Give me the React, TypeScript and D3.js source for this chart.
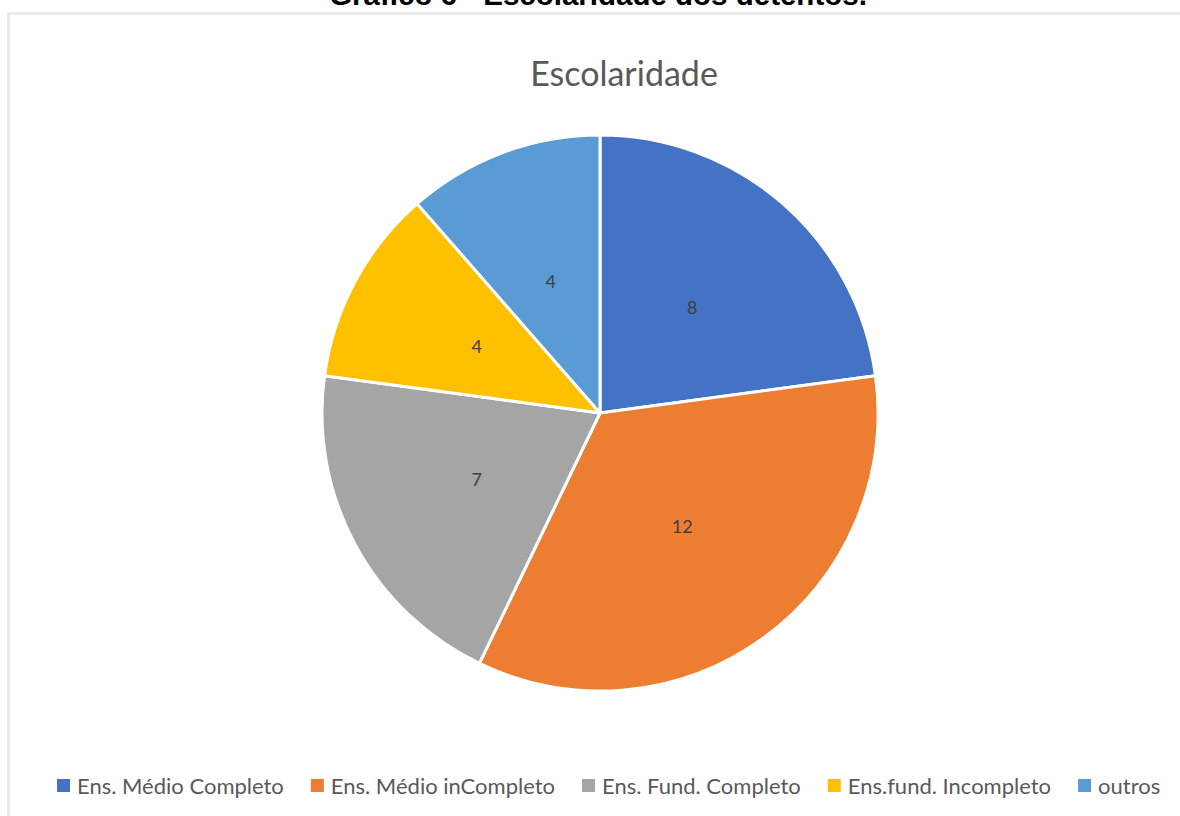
import React, { useEffect, useRef } from "react";
import * as d3 from "d3";

const categories = [
  "Ens. Médio Completo",
  "Ens. Médio inCompleto",
  "Ens. Fund. Completo",
  "Ens.fund. Incompleto",
  "outros",
];
const values = [8, 12, 7, 4, 4];
const colors = ["#4472C4", "#ED7D31", "#A5A5A5", "#FFC000", "#5B9BD5"];
const chartTitle = "Escolaridade";
const caption = "Gráfico 6 - Escolaridade dos detentos.";

const W = 1180;
const H = 816;
const FONT = "Lato, 'Open Sans', sans-serif";

export default function App() {
  const ref = useRef<SVGSVGElement | null>(null);

  useEffect(() => {
    const svg = d3.select(ref.current);
    svg.selectAll("*").remove();

    svg.append("rect").attr("x", 0).attr("y", 0).attr("width", W).attr("height", H).attr("fill", "#fff");

    // caption (cropped at top, as in the reference)
    svg
      .append("text")
      .attr("x", 598)
      .attr("y", 5)
      .attr("text-anchor", "middle")
      .attr("font-family", "'Liberation Sans', Arial, sans-serif")
      .attr("font-weight", "bold")
      .attr("font-size", 29.5)
      .attr("fill", "#000")
      .text(caption);

    // chart area border
    svg
      .append("rect")
      .attr("x", 8.5)
      .attr("y", 13.5)
      .attr("width", W + 20)
      .attr("height", H + 20)
      .attr("fill", "none")
      .attr("stroke", "#e6e6e6")
      .attr("stroke-width", 2.5);

    // title
    svg
      .append("text")
      .attr("x", 624)
      .attr("y", 86)
      .attr("text-anchor", "middle")
      .attr("font-family", FONT)
      .attr("font-size", 34)
      .attr("fill", "#595959")
      .text(chartTitle);

    const cx = 600;
    const cy = 413;
    const r = 278;
    const pie = d3.pie<number>().sort(null).value((d) => d);
    const arcs = pie(values);
    const arc = d3.arc<d3.PieArcDatum<number>>().innerRadius(0).outerRadius(r);
    const labelArc = d3.arc<d3.PieArcDatum<number>>().innerRadius(140).outerRadius(140);

    const g = svg.append("g").attr("transform", `translate(${cx},${cy})`);
    g.selectAll("path")
      .data(arcs)
      .join("path")
      .attr("d", arc as any)
      .attr("fill", (_d, i) => colors[i])
      .attr("stroke", "#fff")
      .attr("stroke-width", 3)
      .attr("stroke-linejoin", "round");

    g.selectAll("text.lbl")
      .data(arcs)
      .join("text")
      .attr("class", "lbl")
      .attr("transform", (d) => `translate(${labelArc.centroid(d)})`)
      .attr("text-anchor", "middle")
      .attr("dy", "0.35em")
      .attr("font-family", FONT)
      .attr("font-size", 18)
      .attr("fill", "#404040")
      .text((d) => String(d.data));

    // legend
    const leg = svg.append("g");
    let x = 57;
    const ly = 786;
    categories.forEach((c, i) => {
      leg
        .append("rect")
        .attr("x", x)
        .attr("y", ly - 7)
        .attr("width", 13)
        .attr("height", 13)
        .attr("fill", colors[i]);
      const t = leg
        .append("text")
        .attr("x", x + 20)
        .attr("y", ly)
        .attr("dy", "0.35em")
        .attr("font-family", FONT)
        .attr("font-size", 22)
        .attr("fill", "#595959")
        .text(c);
      const w = (t.node() as SVGTextElement).getComputedTextLength();
      x = x + 20 + w + 27;
    });
  }, []);

  return (
    <svg
      ref={ref}
      width={W}
      height={H}
      style={{ position: "absolute", left: 0, top: 0, display: "block" }}
    />
  );
}
